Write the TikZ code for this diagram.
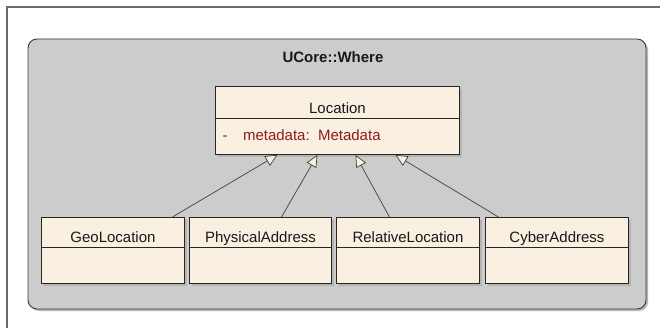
\documentclass[tikz,border=0pt]{standalone}
\usepackage{fontspec}
\setmainfont{Liberation Sans}
\usetikzlibrary{arrows.meta,positioning,calc}
\definecolor{pkgfill}{HTML}{CCCCCC}
\definecolor{pkgline}{HTML}{3A3A3A}
\definecolor{classfill}{HTML}{FAF0E2}
\definecolor{shadowc}{HTML}{B4B4B4}
\definecolor{attrred}{HTML}{8E1B1B}
\definecolor{framec}{HTML}{6A6A6A}
\newcommand\umlfont{\fontsize{15}{17}\selectfont}
\tikzset{
  compart/.style={draw=black!85, line width=0.9pt, fill=classfill, anchor=north west,
    inner sep=0pt, minimum width=#1, text=black!90, font=\umlfont},
  namepart/.style={compart=#1, minimum height=30pt},
  bodypart/.style={compart=#1, minimum height=36pt},
  classname/.style={anchor=base, font=\umlfont, text=black!90},
  boxshadow/.style={fill=shadowc, draw=none},
  inherit/.style={draw=black!75, line width=0.7pt,
    -{Triangle[length=12pt,width=11pt,fill=classfill]}},
}
\begin{document}
\begin{tikzpicture}[x=1pt,y=-1pt]
\useasboundingbox (0,0) rectangle (660,328);
\fill[white] (0,0) rectangle (660,328);

% outer diagram frame
\draw[framec, line width=1.2pt] (7,340) -- (7,7) -- (670,7);

% package UCore::Where
\fill[shadowc, rounded corners=9pt] (30,41) rectangle (648,311);
\draw[pkgline, fill=pkgfill, line width=0.9pt, rounded corners=9pt] (28,39) rectangle (646,309);
\node[font=\bfseries\umlfont, text=black!90] (pkgtitle) at (333,57) {UCore::Where};

% class shadows
\fill[boxshadow] (218,89) rectangle (462,157);
\fill[boxshadow] (44,220) rectangle (187,286);
\fill[boxshadow] (192,220) rectangle (334,286);
\fill[boxshadow] (339,220) rectangle (482,286);
\fill[boxshadow] (488,220) rectangle (631,286);

% Location
\node[namepart=244pt, minimum height=32pt] (locname) at (215,86) {};
\node[classname] at ($(locname.south)+(0,-5)$) {Location};
\node[bodypart=244pt] (locattr) at (215,118) {};
\node[anchor=base west, font=\umlfont, text=attrred] (attr) at (219,140.5)
  {-\hspace{15.5pt}metadata:\ \ Metadata};

% subclasses
\node[namepart=143pt] (geo) at (41,217) {};
\node[bodypart=143pt] (geobody) at (41,247) {};
\node[namepart=142pt] (phys) at (189,217) {};
\node[bodypart=142pt] (physbody) at (189,247) {};
\node[namepart=143pt] (rel) at (336,217) {};
\node[bodypart=143pt] (relbody) at (336,247) {};
\node[namepart=143pt] (cyber) at (485,217) {};
\node[bodypart=143pt] (cyberbody) at (485,247) {};

\foreach \n/\t in {geo/GeoLocation, phys/PhysicalAddress, rel/RelativeLocation, cyber/CyberAddress}
  \node[classname] at ($(\n.south)+(0,-5)$) {\t};

% generalisations
\draw[inherit] ([xshift=59.5pt]geo.north) -- ([xshift=-60pt]locattr.south);
\draw[inherit] ([xshift=21pt]phys.north) -- ([xshift=-20pt]locattr.south);
\draw[inherit] ([xshift=-18.5pt]rel.north) -- ([xshift=18pt]locattr.south);
\draw[inherit] ([xshift=-58.5pt]cyber.north) -- ([xshift=58pt]locattr.south);
\end{tikzpicture}
\end{document}
